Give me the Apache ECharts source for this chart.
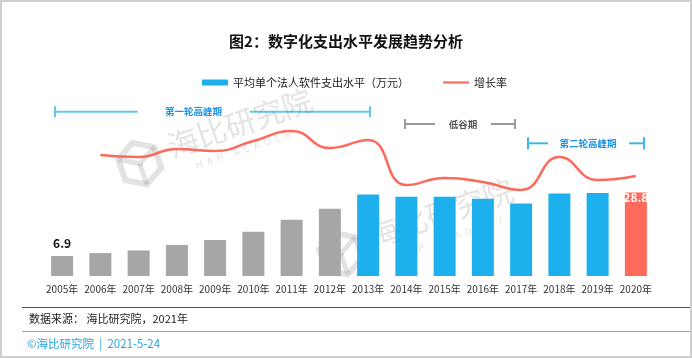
<!DOCTYPE html>
<html>
<head>
<meta charset="utf-8">
<script src="https://cdn.jsdelivr.net/npm/echarts@6/dist/echarts.min.js"></script>
<style>
html,body{margin:0;padding:0;background:#fff;}
#c{width:692px;height:359px;}
</style>
</head>
<body>
<div id="c"></div>
<script>
// ---- data ----
var years = ['2005年','2006年','2007年','2008年','2009年','2010年','2011年','2012年','2013年','2014年','2015年','2016年','2017年','2018年','2019年','2020年'];
var spendValues = [6.9, 7.9, 8.8, 10.7, 12.4, 15.2, 19.4, 23.2, 28.1, 27.3, 27.3, 26.6, 25.0, 28.4, 28.6, 28.8];
// growth rate (unlabelled in source; read on a relative scale)
var growthValues = [null, 69.5, 68.3, 72.9, 71.8, 77.5, 83.2, 73.5, 78.1, 52.2, 56.3, 54.0, 49.4, 68.3, 55.1, 57.4];
var barColors = ['#a6a6a6','#a6a6a6','#a6a6a6','#a6a6a6','#a6a6a6','#a6a6a6','#a6a6a6','#a6a6a6',
                 '#1eb0ec','#1eb0ec','#1eb0ec','#1eb0ec','#1eb0ec','#1eb0ec','#1eb0ec','#ff6a5b'];
var seriesNames = ['平均单个法人软件支出水平（万元）', '增长率'];
var titleText = '图2：数字化支出水平发展趋势分析';

var FONT = '"Noto Sans CJK SC", "Noto Sans", sans-serif';
var chart = echarts.init(document.getElementById('c'), null, {renderer: 'canvas'});

var barData = spendValues.map(function (v, i) {
  var item = {value: v, itemStyle: {color: barColors[i]}};
  if (i === 0) {
    item.label = {show: true, position: 'top', distance: 7, color: '#111', fontWeight: 'bold', fontSize: 12, fontFamily: FONT};
  }
  if (i === spendValues.length - 1) {
    item.label = {show: true, position: 'insideTop', distance: -1, color: '#fff', fontWeight: 'bold', fontSize: 12, fontFamily: FONT};
  }
  return item;
});

function watermark(cx, cy) {
  var c = 'rgba(90,90,90,0.17)';
  return {
    type: 'group', x: cx, y: cy, rotation: 0.33, silent: true, z: 100,
    children: [
      {type: 'text', x: 0, y: 0, style: {text: '海比研究院', fontSize: 30, fontFamily: FONT, fill: c, align: 'center', verticalAlign: 'middle'}},
      {type: 'text', x: 0, y: 26, style: {text: 'H  A  P     A  C  A  D  E  M  Y', fontSize: 10, fontFamily: FONT, fill: c, align: 'center', verticalAlign: 'middle'}},
      {type: 'polygon', x: -108, y: 6, shape: {points: [[0,-22],[19,-11],[19,11],[0,22],[-19,11],[-19,-11]]}, style: {fill: 'none', stroke: c, lineWidth: 6}},
      {type: 'polyline', x: -108, y: 6, shape: {points: [[-19,-11],[0,0],[19,-11]]}, style: {fill: 'none', stroke: c, lineWidth: 5}},
      {type: 'line', x: -108, y: 6, shape: {x1: 0, y1: 0, x2: 0, y2: 22}, style: {stroke: c, lineWidth: 5}}
    ]
  };
}

function bracket(x1, x2, y, tx, ta, tb, text, lineColor, textColor, tickH) {
  return {
    type: 'group', silent: true,
    children: [
      {type: 'line', shape: {x1: x1, y1: y, x2: ta, y2: y}, style: {stroke: lineColor, lineWidth: 2}},
      {type: 'line', shape: {x1: tb, y1: y, x2: x2, y2: y}, style: {stroke: lineColor, lineWidth: 2}},
      {type: 'line', shape: {x1: x1, y1: y - tickH, x2: x1, y2: y + tickH}, style: {stroke: lineColor, lineWidth: 2}},
      {type: 'line', shape: {x1: x2, y1: y - tickH, x2: x2, y2: y + tickH}, style: {stroke: lineColor, lineWidth: 2}},
      {type: 'text', x: tx, y: y, style: {text: text, fontSize: 9.5, fontWeight: 'bold', fontFamily: FONT, fill: textColor, align: 'center', verticalAlign: 'middle'}}
    ]
  };
}

var option = {
  animation: false,
  backgroundColor: '#fff',
  title: {
    text: titleText, left: 'center', top: 29,
    textStyle: {fontSize: 15, fontWeight: 'bold', color: '#111', fontFamily: FONT}
  },
  legend: {
    top: 77, left: 202, itemGap: 33, itemWidth: 26, itemHeight: 6, padding: 0,
    textStyle: {fontSize: 11, color: '#222', fontFamily: FONT},
    data: [
      {name: seriesNames[0], icon: 'rect', itemStyle: {color: '#1eb0ec'}},
      {name: seriesNames[1], itemStyle: {color: 'rgba(0,0,0,0)', borderColor: 'rgba(0,0,0,0)', borderWidth: 0, opacity: 0}, lineStyle: {width: 2.2, color: '#fb6a5c'}}
    ]
  },
  grid: {left: 43, right: 37, top: 101.8, bottom: 83},
  xAxis: {
    type: 'category', data: years,
    axisLine: {show: false}, axisTick: {show: false},
    axisLabel: {fontSize: 10, color: '#333', margin: 8, fontFamily: FONT, interval: 0}
  },
  yAxis: [
    {type: 'value', min: 0, max: 60, show: false, splitLine: {show: false}},
    {type: 'value', min: 0, max: 100, show: false, splitLine: {show: false}}
  ],
  series: [
    {name: seriesNames[0], type: 'bar', data: barData, barWidth: 22, itemStyle: {color: '#1eb0ec'}},
    {name: seriesNames[1], type: 'line', yAxisIndex: 1, data: growthValues, smooth: 0.5,
     symbol: 'none', showSymbol: false, connectNulls: false,
     itemStyle: {color: '#fb6a5c'}, lineStyle: {color: '#fb6a5c', width: 2.5}}
  ],
  graphic: [
    bracket(55, 370, 111.7, 193.5, 137.7, 250, '第一轮高峰期', '#62c5ef', '#1b93e4', 5.5),
    bracket(405, 515, 124, 463, 435, 491, '低谷期', '#9a9a9a', '#555', 5),
    bracket(528, 644, 143.3, 588, 548, 629, '第二轮高峰期', '#3db6ef', '#1b93e4', 6),
    watermark(240, 123),
    watermark(441, 213),
    {type: 'line', silent: true, shape: {x1: 22, y1: 307.5, x2: 692, y2: 307.5}, style: {stroke: '#555', lineWidth: 1}},
    {type: 'text', silent: true, x: 29, y: 318.5, style: {text: '数据来源： 海比研究院，2021年', fontSize: 11, fontFamily: FONT, fill: '#222', verticalAlign: 'middle'}},
    {type: 'line', silent: true, shape: {x1: 22, y1: 331.5, x2: 692, y2: 331.5}, style: {stroke: '#3ec1f0', lineWidth: 1.2}},
    {type: 'text', silent: true, x: 27, y: 344, style: {text: '©海比研究院  |  2021-5-24', fontSize: 11.5, fontFamily: FONT, fill: '#2aa3e0', verticalAlign: 'middle'}},
    {type: 'rect', silent: true, shape: {x: 1, y: 1, width: 690, height: 356}, style: {fill: 'none', stroke: '#cfcfcf', lineWidth: 2}}
  ]
};
chart.setOption(option);
</script>
</body>
</html>
